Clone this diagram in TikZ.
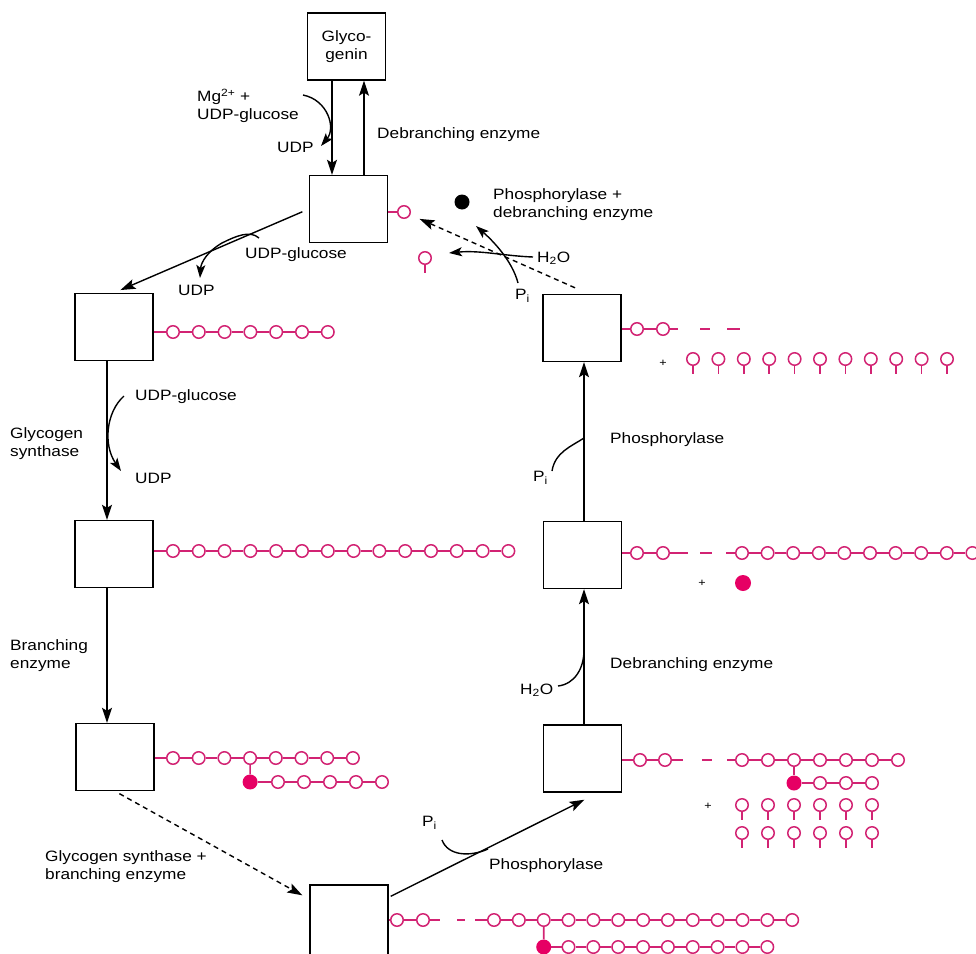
\documentclass[tikz,border=0pt]{standalone}
\usepackage{fontspec}
\setmainfont{Liberation Sans}[FakeStretch=1.15]
\usetikzlibrary{arrows.meta,calc}
\definecolor{pk}{RGB}{210,35,115}
\definecolor{pkf}{RGB}{230,0,100}
\newcommand\mkchain[5]{%
  \foreach \k in {0,...,#5}{\node[gl] (#1\k) at ({#2+#3*\k},#4) {};}
  \foreach \k [remember=\k as \p (initially 0)] in {1,...,#5}{\draw[lk] (#1\p) -- (#1\k);}
}
\newcommand\stemg[3]{\node[gl] (#1) at (#2,#3) {}; \draw[lk] (#1.south) -- ++(0,8);}
\begin{document}
\begin{tikzpicture}[x=1pt,y=-1pt,
  font=\fontsize{15}{18}\selectfont,
  box/.style={draw,line width=1.4pt,inner sep=0,minimum width=78pt,minimum height=67pt},
  arr/.style={line width=1.4pt,-{Stealth[length=15pt,width=10pt,inset=3pt]}},
  sarr/.style={line width=1.4pt,-{Stealth[length=13pt,width=9pt,inset=3pt]}},
  darr/.style={arr,dash pattern=on 5pt off 4pt},
  gl/.style={circle,draw=pk,line width=1.5pt,fill=white,minimum size=12.5pt,inner sep=0},
  gf/.style={circle,fill=pkf,minimum size=15pt,inner sep=0},
  lk/.style={draw=pk,line width=1.6pt},
  lbl/.style={align=left,inner sep=0,anchor=west},
  pl/.style={inner sep=0,font=\fontsize{11}{12}\selectfont}]
\useasboundingbox (0,0) rectangle (976,953);

% boxes
\node[box,align=center] (G) at (346.5,46.5) {Glyco-\\genin};
\node[box] (M) at (348.5,209) {};
\node[box] (L1) at (114,327) {};
\node[box] (L2) at (114,554) {};
\node[box] (L3) at (115,757) {};
\node[box,minimum height=70pt] (Bt) at (349,920) {};
\node[box] (R1) at (582.5,758.5) {};
\node[box] (R2) at (582.5,555) {};
\node[box] (R3) at (582,328) {};

\coordinate (xa) at (332,0);
\coordinate (xb) at (364,0);
\coordinate (xl) at (107,0);
\coordinate (xr) at (584,0);

% labels
\node[lbl] (mg) at (197,106) {Mg\textsuperscript{2+} +\\UDP-glucose};
\node[lbl] (udp0) at (277,147) {UDP};
\node[lbl] (deb0) at (377,135) {Debranching enzyme};
\node[lbl] (udpg1) at (245,255) {UDP-glucose};
\node[lbl] (udp1) at (178,290) {UDP};
\node[lbl] (udpg2) at (135,397) {UDP-glucose};
\node[lbl] (udp2) at (135,478) {UDP};
\node[lbl] (gs) at (10,444) {Glycogen\\synthase};
\node[lbl] (be) at (10,656) {Branching\\enzyme};
\node[lbl] (gsbe) at (45,867) {Glycogen synthase +\\branching enzyme};
\node[lbl] (pi1) at (422,823) {P\textsubscript{i}};
\node[lbl] (ph1) at (489,866) {Phosphorylase};
\node[lbl] (h2o1) at (520,690) {H\textsubscript{2}O};
\node[lbl] (deb1) at (610,665) {Debranching enzyme};
\node[lbl] (pi2) at (533,478) {P\textsubscript{i}};
\node[lbl] (ph2) at (610,440) {Phosphorylase};
\node[lbl] (h2o2) at (537,258) {H\textsubscript{2}O};
\node[lbl] (pi3) at (515,296) {P\textsubscript{i}};
\node[lbl] (pd) at (493,205) {Phosphorylase +\\debranching enzyme};

% main arrows
\draw[arr] (G.south -| xa) -- (M.north -| xa);
\draw[arr] (M.north -| xb) -- (G.south -| xb);
\draw[sarr] (303,95) .. controls (328,100) and (336,128) .. (321,146);
\draw[arr,shorten <=7pt,shorten >=7pt] (M.west) -- (L1.north);
\draw[sarr] (259,238) .. controls (250,230) and (236,236) .. (222,243) .. controls (208,251) and (201,262) .. (200,278);
\draw[arr] (L1.south -| xl) -- (L2.north -| xl);
\draw[sarr] (124,396) .. controls (106,412) and (103,445) .. (121,471);
\draw[arr] (L2.south -| xl) -- (L3.north -| xl);
\draw[darr,shorten <=5pt] (L3.south) -- ([shift={(-7,11)}]Bt.north west);
\draw[arr] ([shift={(2,12)}]Bt.north east) -- ([shift={(2,7)}]R1.south);
\draw[line width=1.4pt] (442,840) .. controls (448,856) and (470,857) .. (488,849);
\draw[arr] (R1.north -| xr) -- (R2.south -| xr);
\draw[line width=1.4pt] (558,686) .. controls (575,684) and (584,668) .. (584,650);
\draw[arr] (R2.north -| xr) -- (R3.south -| xr);
\draw[line width=1.4pt] (552,471) .. controls (555,452) and (572,446) .. (584,438);

% top right
\node[gl] (Mc) at (404,212) {};
\draw[lk] (M.east |- Mc) -- (Mc);
\draw[darr,shorten >=10pt] ([shift={(-7,-6)}]R3.north) -- (Mc);
\node[circle,fill=black,minimum size=15pt,inner sep=0] (bd) at (462,202) {};
\stemg{tg}{425}{258}
\draw[sarr] (518,283) .. controls (512,260) and (492,240) .. (476,226);
\draw[sarr] (533,257) .. controls (505,256) and (480,250) .. (449,253);

% L1 chain
\mkchain{L1m}{173}{25.8}{332}{6}
\draw[lk] (L1.east |- L1m0) -- (L1m0);
% L2 chain
\mkchain{L2m}{173}{25.8}{551}{13}
\draw[lk] (L2.east |- L2m0) -- (L2m0);
% L3 chain
\mkchain{L3m}{173}{25.7}{758}{7}
\draw[lk] (L3.east |- L3m0) -- (L3m0);
\node[gf] (L3f) at (250.1,782) {};
\draw[lk] (L3m3) -- (L3f);
\mkchain{L3b}{278}{26}{782}{4}
\draw[lk] (L3f) -- (L3b0);

% bottom chain
\node[gl] (Ba0) at (397,920) {};
\node[gl] (Ba1) at (423,920) {};
\draw[lk] (Bt.east |- Ba0) -- (Ba0);
\draw[lk] (Ba0) -- (Ba1);
\draw[lk] (Ba1.east) -- ++(10,0);
\draw[lk] (457,920) -- (465,920);
\mkchain{Btm}{494}{24.85}{920}{12}
\draw[lk] (Btm0.west) -- ++(-12,0);
\node[gf] (Btf) at (543.7,947) {};
\draw[lk] (Btm2) -- (Btf);
\mkchain{Btb}{568.5}{24.85}{947}{8}
\draw[lk] (Btf) -- (Btb0);

% R1 chain
\node[gl] (R1a0) at (640,760) {};
\node[gl] (R1a1) at (665,760) {};
\draw[lk] (R1.east |- R1a0) -- (R1a0);
\draw[lk] (R1a0) -- (R1a1);
\draw[lk] (R1a1.east) -- ++(11,0);
\draw[lk] (702,760) -- (712,760);
\mkchain{R1m}{742}{26}{760}{6}
\draw[lk] (R1m0.west) -- ++(-8,0);
\node[gf] (R1f) at (794,783) {};
\draw[lk] (R1m2) -- (R1f);
\mkchain{R1b}{820}{26}{783}{2}
\draw[lk] (R1f) -- (R1b0);
\node[pl] (pp1) at (708,806) {+};
\foreach \k in {0,...,5}{\stemg{R1g\k}{742+26*\k}{805}\stemg{R1h\k}{742+26*\k}{833}}

% R2 chain
\node[gl] (R2a0) at (637,553) {};
\node[gl] (R2a1) at (663,553) {};
\draw[lk] (R2.east |- R2a0) -- (R2a0);
\draw[lk] (R2a0) -- (R2a1);
\draw[lk] (R2a1.east) -- ++(18,0);
\draw[lk] (700,553) -- (712,553);
\mkchain{R2m}{742}{25.6}{553}{9}
\draw[lk] (R2m0.west) -- ++(-9,0);
\node[pl] (pp2) at (702,583) {+};
\node[gf,minimum size=16pt] (R2f) at (743,583) {};

% R3 chain
\node[gl] (R3a0) at (637,329) {};
\node[gl] (R3a1) at (663,329) {};
\draw[lk] (R3.east |- R3a0) -- (R3a0);
\draw[lk] (R3a0) -- (R3a1);
\draw[lk] (R3a1.east) -- ++(8,0);
\draw[lk] (700,329) -- (710,329);
\draw[lk] (727,329) -- (740,329);
\node[pl] (pp3) at (663,363) {+};
\foreach \k in {0,...,10}{\stemg{R3s\k}{693+25.4*\k}{359}}
\end{tikzpicture}
\end{document}
